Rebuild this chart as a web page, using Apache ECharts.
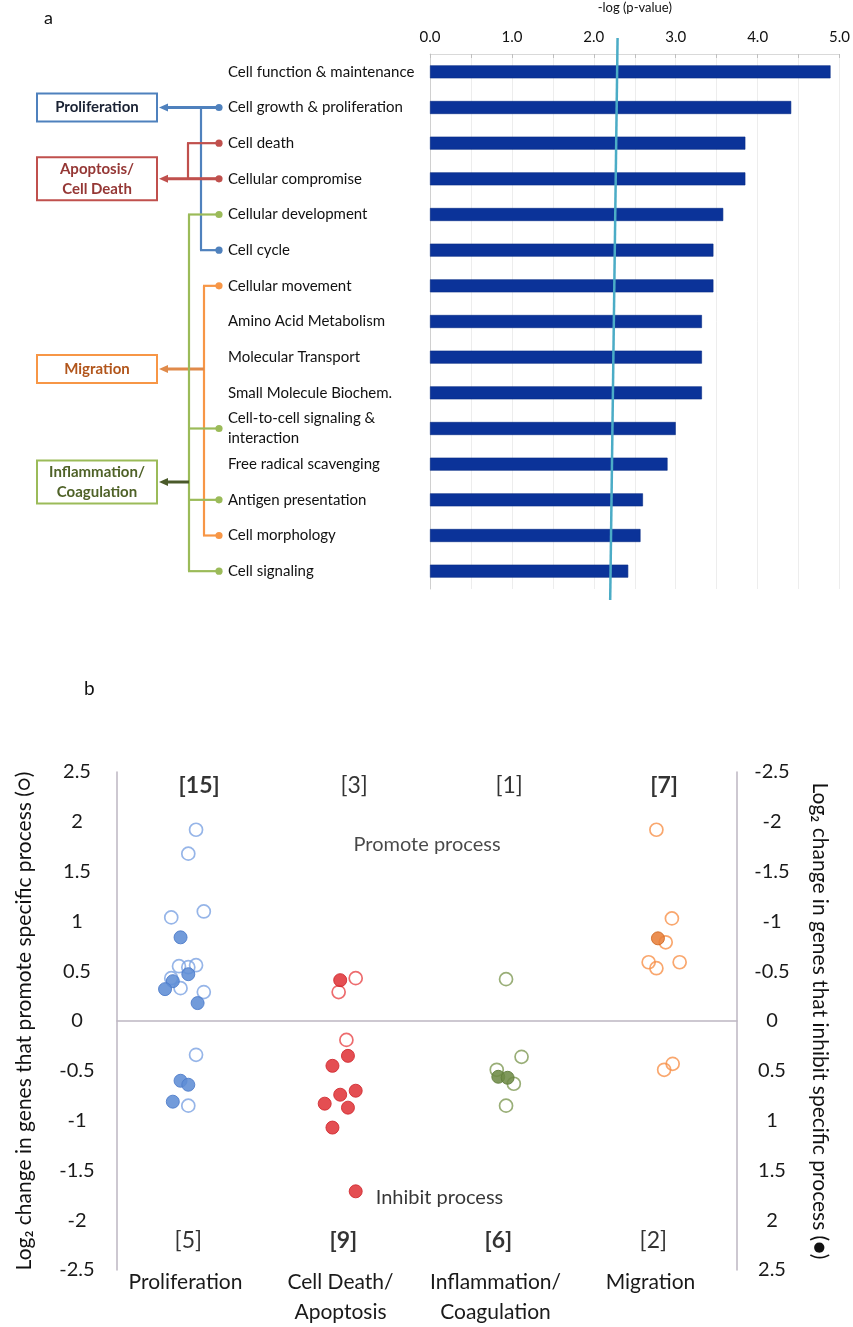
<!DOCTYPE html>
<html>
<head>
<meta charset="utf-8">
<script src="https://cdn.jsdelivr.net/npm/echarts@6/dist/echarts.min.js"></script>
<style>
html,body{margin:0;padding:0;background:#fff;}
#chart{width:853px;height:1327px;}
</style>
</head>
<body>
<div id="chart"></div>
<script>
// ---------------- Panel a data ----------------
const barCategories = ['Cell function & maintenance', 'Cell growth & proliferation', 'Cell death', 'Cellular compromise', 'Cellular development', 'Cell cycle', 'Cellular movement', 'Amino Acid Metabolism', 'Molecular Transport', 'Small Molecule Biochem.', 'Cell-to-cell signaling &\ninteraction', 'Free radical scavenging', 'Antigen presentation', 'Cell morphology', 'Cell signaling'];
const barValues = [4.89, 4.41, 3.85, 3.85, 3.58, 3.46, 3.46, 3.32, 3.32, 3.32, 3.00, 2.90, 2.60, 2.57, 2.42];
const thresholdTop = 2.29;
const thresholdBottom = 2.20;
const axisTitleA = '-log (p-value)';

// process groups linking functions (tree on the left of panel a)
const treeBoxes = ['Proliferation', 'Apoptosis/\nCell Death', 'Migration', 'Inflammation/\nCoagulation'];
const treeMembers = [
  ['Cell growth & proliferation', 'Cell cycle'],
  ['Cell death', 'Cellular compromise'],
  ['Cellular movement', 'Cell morphology'],
  ['Cellular development', 'Cell-to-cell signaling &\ninteraction', 'Antigen presentation', 'Cell signaling']
];

// ---------------- Panel b data ----------------
const groupNames = ['Proliferation', 'Cell Death/\nApoptosis', 'Inflammation/\nCoagulation', 'Migration'];
const yRange = [-2.5, 2.5];
const promoteCounts = [15, 3, 1, 7];
const promoteBold = [true, false, false, true];
const inhibitCounts = [5, 9, 6, 2];
const inhibitBold = [false, true, true, false];
// [jitter offset within group, log2 change] ; promote -> left axis, inhibit -> right (inverted) axis
const prolifPromote = [[0.01, 1.92], [-0.04, 1.68], [-0.15, 1.04], [0.06, 1.10], [-0.10, 0.55], [-0.04, 0.54], [0.01, 0.56], [-0.15, 0.43], [-0.09, 0.33], [0.06, 0.29], [0.01, -0.34], [-0.04, -0.85]];
const prolifInhibit = [[-0.09, -0.84], [-0.04, -0.47], [-0.14, -0.40], [-0.19, -0.32], [0.02, -0.18], [-0.09, 0.60], [-0.04, 0.64], [-0.14, 0.81]];
const deathPromote = [[0.04, 0.43], [-0.07, 0.29], [-0.02, -0.19]];
const deathInhibit = [[-0.06, -0.41], [-0.01, 0.35], [-0.11, 0.45], [0.04, 0.70], [-0.06, 0.74], [-0.16, 0.83], [-0.01, 0.87], [-0.11, 1.07], [0.04, 1.71]];
const inflamPromote = [[0.01, 0.42], [0.11, -0.36], [-0.05, -0.49], [0.06, -0.63], [0.01, -0.85]];
const inflamInhibit = [[-0.04, 0.56], [0.02, 0.57]];
const migPromote = [[-0.02, 1.92], [0.08, 1.03], [0.04, 0.79], [-0.07, 0.59], [-0.02, 0.53], [0.13, 0.59], [0.085, -0.43], [0.03, -0.49]];
const migInhibit = [[-0.01, -0.83]];
const promoteText = 'Promote process';
const inhibitText = 'Inhibit process';

// ---------------- styles ----------------
const FONT = 'Lato, "Open Sans", sans-serif';
const treeColors = ['#4F81BD', '#C0504D', '#F79646', '#9BBB59'];
const treeTextColors = ['#1A2233', '#953735', '#B2561C', '#4F6228'];
const treeArrowColors = ['#4F81BD', '#C0504D', '#E08A4A', '#4A5A2A'];
const treeLayout = [
  { vx: 201, boxRow: 1 },
  { vx: 188, boxRow: 3 },
  { vx: 204, boxRow: 8.33 },
  { vx: 189, boxRow: 11.5 }
];
const openColors = ['#7CA3E2', '#E8474A', '#7F9A55', '#F7914A'];
const fillColors = ['#5F8DD5', '#E0353A', '#6E8B46', '#E8803A'];
const fillBorders = ['#4C7BC9', '#D02A30', '#5E7B3A', '#CF6A25'];

const chart = echarts.init(document.getElementById('chart'), null, { renderer: 'canvas' });

function groupSeries(points, gi, filled) {
  return {
    type: 'scatter',
    xAxisIndex: 1,
    yAxisIndex: filled ? 2 : 1,
    symbol: 'circle',
    symbolSize: 13,
    z: filled ? 4 : 3,
    itemStyle: filled
      ? { color: fillColors[gi], borderColor: fillBorders[gi], borderWidth: 1, opacity: 0.88 }
      : { color: 'rgba(255,255,255,0)', borderColor: openColors[gi], borderWidth: 1.7 },
    data: points.map(function (p) { return [gi + 0.5 + p[0], p[1]]; })
  };
}

const series = [
  {
    type: 'bar', xAxisIndex: 0, yAxisIndex: 0, data: barValues, barWidth: 13,
    itemStyle: { color: '#0B3399', borderColor: '#072B85', borderWidth: 0.6 }
  },
  groupSeries(prolifPromote, 0, false), groupSeries(prolifInhibit, 0, true),
  groupSeries(deathPromote, 1, false), groupSeries(deathInhibit, 1, true),
  groupSeries(inflamPromote, 2, false), groupSeries(inflamInhibit, 2, true),
  groupSeries(migPromote, 3, false), groupSeries(migInhibit, 3, true)
];
// label next to the lowest inhibiting Cell Death point
const deathInhibitSeries = series[4];
const lastIdx = deathInhibitSeries.data.length - 1;
deathInhibitSeries.data[lastIdx] = {
  value: deathInhibitSeries.data[lastIdx],
  label: { show: true, position: 'right', distance: 13, offset: [0, 6], formatter: inhibitText, color: '#1a1a1a', fontSize: 20, fontFamily: FONT }
};

// count annotations and "Promote process" text
function textSeries(items) {
  return {
    type: 'scatter', xAxisIndex: 1, yAxisIndex: 1, symbolSize: 1, silent: true,
    itemStyle: { color: 'rgba(0,0,0,0)' },
    label: { show: true, position: 'inside', color: '#000', fontFamily: FONT },
    data: items
  };
}
const countItems = [];
promoteCounts.forEach(function (c, i) {
  countItems.push({ value: [i + 0.53, 2.36], label: { formatter: '[' + c + ']', fontSize: 23, fontWeight: promoteBold[i] ? 'bold' : 'normal' } });
});
inhibitCounts.forEach(function (c, i) {
  countItems.push({ value: [i + 0.46, -2.2], label: { formatter: '[' + c + ']', fontSize: 23, fontWeight: inhibitBold[i] ? 'bold' : 'normal' } });
});
countItems.push({ value: [2.0, 1.77], label: { formatter: promoteText, fontSize: 20, fontWeight: 'normal', color: '#1a1a1a' } });
series.push(textSeries(countItems));

const option = {
  backgroundColor: '#ffffff',
  animation: false,
  textStyle: { fontFamily: FONT },
  grid: [
    { left: 430, top: 52, width: 410, height: 537, containLabel: false },
    { left: 117, top: 772, width: 620, height: 500, containLabel: false }
  ],
  xAxis: [
    {
      gridIndex: 0, type: 'value', position: 'top', min: 0, max: 5, interval: 0.5,
      name: axisTitleA, nameLocation: 'middle', nameGap: 40,
      nameTextStyle: { fontSize: 13, color: '#111', fontFamily: FONT },
      axisLine: { show: true, lineStyle: { color: '#D9D9D9' } },
      axisTick: { show: true, inside: true, length: 4, lineStyle: { color: '#BFBFBF' } },
      splitLine: { show: true, lineStyle: { color: '#EDEDED', width: 1 } },
      axisLabel: {
        margin: 9, fontSize: 15, color: '#111', fontFamily: FONT,
        formatter: function (v) { return Math.abs(v - Math.round(v)) < 1e-9 ? v.toFixed(1) : ''; }
      }
    },
    {
      gridIndex: 1, type: 'value', position: 'top', min: 0, max: 4,
      axisLine: { show: true, onZero: true, onZeroAxisIndex: 1, lineStyle: { color: '#BDB6C2', width: 1.5 } },
      axisTick: { show: false }, axisLabel: { show: false }, splitLine: { show: false }
    },
    {
      gridIndex: 1, type: 'category', position: 'bottom', data: groupNames,
      axisLine: { show: false, onZero: false }, axisTick: { show: false }, splitLine: { show: false },
      axisLabel: { interval: 0, margin: -3, fontSize: 21, lineHeight: 30, padding: [0, 18, 0, 0], color: '#1a1a1a', fontFamily: FONT }
    }
  ],
  yAxis: [
    {
      gridIndex: 0, type: 'category', data: barCategories, inverse: true,
      axisLine: { show: true, lineStyle: { color: '#D0D0D0' } },
      axisTick: { show: false },
      axisLabel: { interval: 0, align: 'left', margin: 202, fontSize: 15, lineHeight: 20, color: '#111', fontFamily: FONT }
    },
    {
      gridIndex: 1, type: 'value', position: 'left', min: yRange[0], max: yRange[1], interval: 0.5,
      name: 'Log\u2082 change in genes that promote specific process (\u25CB)',
      nameLocation: 'middle', nameRotate: 90, nameGap: 82,
      nameTextStyle: { fontSize: 21, color: '#111', fontFamily: FONT },
      axisLine: { show: true, lineStyle: { color: '#BDB6C2', width: 1.5 } },
      axisTick: { show: false }, splitLine: { show: false },
      axisLabel: { align: 'center', margin: 40, fontSize: 20, color: '#1a1a1a', fontFamily: FONT }
    },
    {
      gridIndex: 1, type: 'value', position: 'right', inverse: true, min: yRange[0], max: yRange[1], interval: 0.5,
      name: 'Log\u2082 change in genes that inhibit specific process (\u25CF)',
      nameLocation: 'middle', nameRotate: -90, nameGap: 72,
      nameTextStyle: { fontSize: 21, color: '#111', fontFamily: FONT },
      axisLine: { show: true, lineStyle: { color: '#BDB6C2', width: 1.5 } },
      axisTick: { show: false }, splitLine: { show: false },
      axisLabel: { align: 'center', margin: 35, fontSize: 20, color: '#1a1a1a', fontFamily: FONT }
    }
  ],
  series: series
};
chart.setOption(option);

// ---------------- annotations computed from the axes ----------------
function rowY(r) {
  const y0 = chart.convertToPixel({ yAxisIndex: 0 }, barCategories[0]);
  const y1 = chart.convertToPixel({ yAxisIndex: 0 }, barCategories[1]);
  return y0 + (y1 - y0) * r;
}
const elements = [];
// panel labels
elements.push({ type: 'text', left: 44, top: 9, style: { text: 'a', font: '18px ' + FONT, fill: '#111' } });
elements.push({ type: 'text', left: 84, top: 679, style: { text: 'b', font: '19px ' + FONT, fill: '#111' } });

// threshold line
const tx1 = chart.convertToPixel({ xAxisIndex: 0 }, thresholdTop);
const tx2 = chart.convertToPixel({ xAxisIndex: 0 }, thresholdBottom);
elements.push({ type: 'line', z: 10, shape: { x1: tx1, y1: 38, x2: tx2, y2: 600 }, style: { stroke: '#4BACC6', lineWidth: 2.5 } });

// tree
const dotX = 219, boxLeft = 37, boxRight = 157, arrowTip = 159;
treeBoxes.forEach(function (name, gi) {
  const L = treeLayout[gi];
  const col = treeColors[gi];
  const rows = treeMembers[gi].map(function (m) { return barCategories.indexOf(m); });
  const ys = rows.map(rowY);
  const yMin = Math.min.apply(null, ys), yMax = Math.max.apply(null, ys);
  const by = rowY(L.boxRow);
  const twoLine = name.indexOf('\n') >= 0;
  const h = twoLine ? 43 : 28;
  elements.push({ type: 'line', shape: { x1: L.vx, y1: yMin, x2: L.vx, y2: yMax }, style: { stroke: col, lineWidth: 2.2 } });
  ys.forEach(function (y) {
    elements.push({ type: 'line', shape: { x1: L.vx - 1, y1: y, x2: dotX, y2: y }, style: { stroke: col, lineWidth: 2.2 } });
    elements.push({ type: 'circle', z: 5, shape: { cx: dotX, cy: y, r: 3.6 }, style: { fill: col } });
  });
  const startX = rows.indexOf(L.boxRow) >= 0 ? dotX : L.vx;
  elements.push({ type: 'line', shape: { x1: startX, y1: by, x2: arrowTip + 6, y2: by }, style: { stroke: treeArrowColors[gi], lineWidth: 3 } });
  elements.push({ type: 'polygon', shape: { points: [[arrowTip, by], [arrowTip + 9, by - 4], [arrowTip + 9, by + 4]] }, style: { fill: treeArrowColors[gi] } });
  elements.push({ type: 'rect', z: 6, shape: { x: boxLeft, y: by - h / 2, width: boxRight - boxLeft, height: h }, style: { fill: '#fff', stroke: col, lineWidth: 2 } });
  elements.push({
    type: 'text', z: 7, x: (boxLeft + boxRight) / 2, y: by,
    style: { text: name, font: 'bold 15px ' + FONT, fill: treeTextColors[gi], align: 'center', verticalAlign: 'middle', lineHeight: 20 }
  });
});
chart.setOption({ graphic: { elements: elements } });
</script>
</body>
</html>
